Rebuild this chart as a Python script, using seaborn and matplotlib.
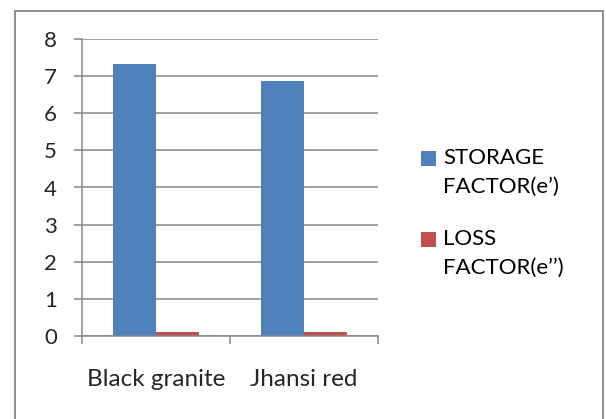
import matplotlib
matplotlib.use("Agg")
import matplotlib.pyplot as plt
from matplotlib.patches import Rectangle
import seaborn as sns
import pandas as pd

# Dielectric factors of the two stone samples
categories = ["Black granite", "Jhansi red"]
storage_factor = [7.32, 6.86]
loss_factor = [0.12, 0.11]
series_names = ["STORAGE\nFACTOR(e\u2019)", "LOSS\nFACTOR(e\u2019\u2019)"]
y_ticks = [0, 1, 2, 3, 4, 5, 6, 7, 8]

colors = ["#4F81BD", "#C0504D"]
grid_gray = "#868686"

df = pd.DataFrame({
    "stone": categories * 2,
    "series": [series_names[0]] * 2 + [series_names[1]] * 2,
    "value": storage_factor + loss_factor,
})

sns.set_theme(style="white")
plt.rcParams["font.family"] = ["Lato", "DejaVu Sans"]

fig = plt.figure(figsize=(6.06, 4.19), dpi=100)
ax = fig.add_axes([82 / 606, 1 - 336 / 419, (378 - 82) / 606, (336 - 39) / 419])

sns.barplot(data=df, x="stone", y="value", hue="series", order=categories,
            hue_order=series_names, palette=colors, width=0.58, gap=0,
            saturation=1, legend=False, ax=ax, linewidth=0)

ax.set_ylim(0, 8)
ax.set_xlim(-0.5, 1.5)
ax.set_yticks(y_ticks)
ax.set_yticklabels([str(t) for t in y_ticks], fontsize=16)
ax.yaxis.grid(True, color=grid_gray, linewidth=1.1)
ax.set_axisbelow(True)
ax.set_xlabel("")
ax.set_ylabel("")

for side in ["top", "right"]:
    ax.spines[side].set_visible(False)
for side in ["left", "bottom"]:
    ax.spines[side].set_color(grid_gray)
    ax.spines[side].set_linewidth(1.1)

ax.tick_params(axis="y", which="major", length=6, width=1.1, color=grid_gray,
               pad=12, left=True, labelsize=16)
ax.set_xticks([0, 1])
ax.set_xticklabels(categories, fontsize=17.5)
ax.tick_params(axis="x", which="major", length=0, pad=24)
ax.set_xticks([-0.5, 0.5, 1.5], minor=True)
ax.tick_params(axis="x", which="minor", length=6, width=1.1, color=grid_gray,
               bottom=True, direction="out")

# Legend drawn beside the plot, swatch level with the first label line
legend_items = [
    (colors[0], series_names[0], 159),
    (colors[1], series_names[1], 240),
]
for color, label, ypix in legend_items:
    fig.patches.append(Rectangle((421 / 606, 1 - (ypix + 7.5) / 419), 15 / 606, 15 / 419,
                                 transform=fig.transFigure, facecolor=color,
                                 edgecolor="none"))
    fig.text(443 / 606, 1 - (ypix - 11) / 419, label, fontsize=16, va="top",
             ha="left", linespacing=1.55, color="black")

# Chart frame
fig.patches.append(Rectangle((14.5 / 606, -0.05), (603 - 14.5) / 606,
                             1.05 - 11.5 / 419, transform=fig.transFigure,
                             facecolor="none", edgecolor=grid_gray, linewidth=1.3))

fig.savefig("out.png", dpi=100)
